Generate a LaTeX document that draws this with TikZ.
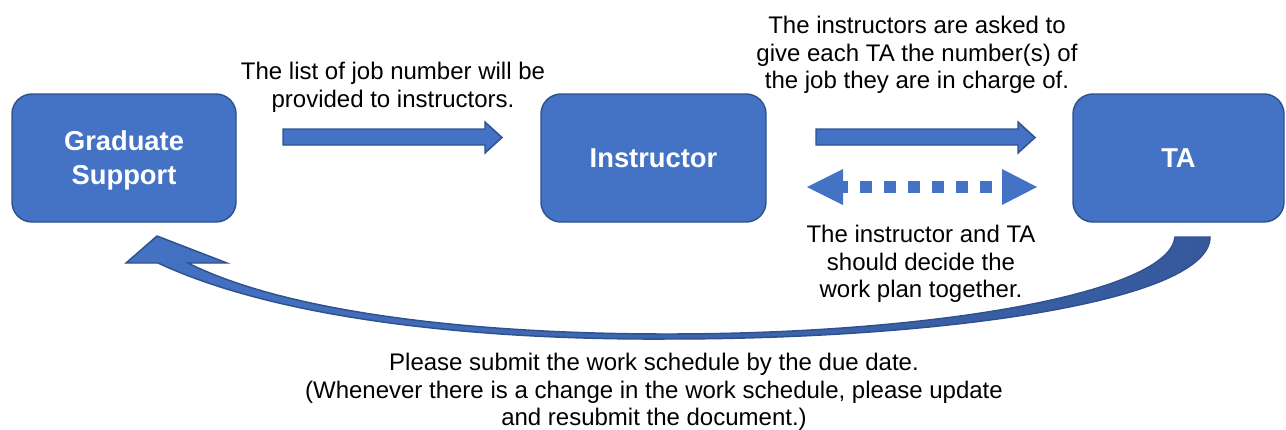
\documentclass[tikz,border=0pt]{standalone}
\usepackage{fontspec}
\setmainfont{Liberation Sans}
\definecolor{boxfill}{HTML}{4472C4}
\definecolor{boxline}{HTML}{2F528F}
\definecolor{arcdark}{HTML}{36599C}
\newcommand{\boxlines}[1]{\raisebox{-2.3pt}[\height][\depth]{\begin{tabular}{@{}c@{}}#1\end{tabular}}}
\begin{document}
\begin{tikzpicture}[x=0.75pt,y=-0.75pt,
  box/.style={draw=boxline, line width=1.1pt, fill=boxfill, rounded corners=15pt,
    text=white, font=\bfseries\fontsize{20.5pt}{25.5pt}\selectfont, align=center,
    minimum height=96pt, inner sep=0pt},
  lbl/.style={font=\fontsize{18pt}{20.7pt}\selectfont, align=center, inner sep=0pt, text=black},
  blockarrow/.style={draw=boxline, line width=1.1pt, fill=boxfill, line join=miter},
  dotline/.style={draw=boxfill, line width=9pt, dash pattern=on 9pt off 9pt},
  dothead/.style={fill=boxfill},
  curved/.style={draw=boxline, line width=1.1pt, left color=boxfill, right color=arcdark, line join=miter}]
\useasboundingbox (0,0) rectangle (1286,429);

\node[box, minimum width=168pt] (gs) at (124,158) {\boxlines{Graduate\\Support}};
\node[box, minimum width=168.75pt] (ins) at (653.5,158) {\boxlines{Instructor}};
\node[box, minimum width=158.25pt] (ta) at (1178.5,158) {\boxlines{TA}};

\node[lbl] (t1) at (393,87.5) {The list of job number will be\\provided to instructors.};
\node[lbl] (t2) at (917,55) {The instructors are asked to\\give each TA the number(s) of\\the job they are in charge of.};
\node[lbl] (t3) at (921,264) {The instructor and TA\\should decide the\\work plan together.};
\node[lbl] (t4) at (654,392) {Please submit the work schedule by the due date.\\(Whenever there is a change in the work schedule, please update\\and resubmit the document.)};

% block arrow Graduate Support -> Instructor
\path[blockarrow] (283,129) -- (485,129) -- (485,122) -- (502,137.5) -- (485,153) -- (485,145) -- (283,145) -- cycle;
% block arrow Instructor -> TA
\path[blockarrow] (816,129) -- (1018,129) -- (1018,122) -- (1035,137.5) -- (1018,153) -- (1018,145) -- (816,145) -- cycle;

% dotted double arrow Instructor <-> TA
\coordinate (dl) at (836,187);
\coordinate (dr) at (993,187);
\draw[dotline] (dl) -- (dr);
\fill[dothead] (807,187) -- (843,169) -- (843,205) -- cycle;
\fill[dothead] (1037,187) -- (1002,169) -- (1002,205) -- cycle;

% curved arrow TA -> Graduate Support
\path[curved] (1210,237) .. controls (1210,300) and (950,339) .. (667,339)
  .. controls (480,340) and (280,320) .. (158,263)
  -- (126,263) -- (157,236) -- (227,263) -- (188,263)
  .. controls (290,314) and (480,334) .. (667,334)
  .. controls (940,334) and (1170,292) .. (1175,237) -- cycle;
\end{tikzpicture}
\end{document}
